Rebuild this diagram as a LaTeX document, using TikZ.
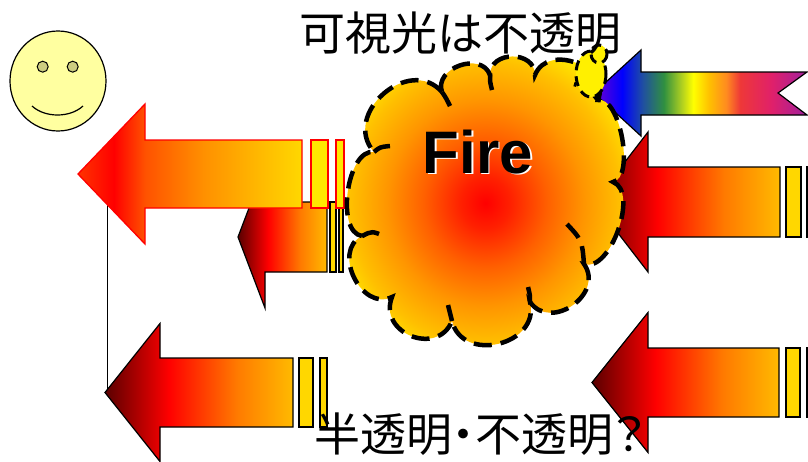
\documentclass[tikz,border=0pt]{standalone}
\usepackage{fontspec}
\usetikzlibrary{calc}
\newfontfamily\jpfont{Noto Sans CJK JP}[RawFeature=+palt]
\newfontfamily\firefont{Liberation Sans}
\definecolor{faceC}{HTML}{FFFFA0}
\definecolor{eyeC}{HTML}{CCCC80}
\definecolor{goldC}{HTML}{FFD700}
\definecolor{barC}{HTML}{FFE800}
\definecolor{hotA}{HTML}{FF3300}
\definecolor{hotB}{HTML}{FF5200}
\definecolor{hotC}{HTML}{FF9000}
\definecolor{hotD}{HTML}{FFB400}
\definecolor{hotE}{HTML}{FFD800}
\definecolor{embA}{HTML}{5A0000}
\definecolor{embC}{HTML}{FF7A00}
\definecolor{embD}{HTML}{FFBA00}
\definecolor{rbA}{HTML}{7000D0}
\definecolor{rbB}{HTML}{0000FF}
\definecolor{rbC}{HTML}{2050A0}
\definecolor{rbD}{HTML}{309040}
\definecolor{rbE}{HTML}{B0D020}
\definecolor{rbF}{HTML}{FFFF00}
\definecolor{rbG}{HTML}{FFC000}
\definecolor{rbH}{HTML}{FF8A20}
\definecolor{rbI}{HTML}{EE3838}
\definecolor{rbJ}{HTML}{E0206A}
\definecolor{rbK}{HTML}{A0209F}
\definecolor{flA}{HTML}{FF2000}
\definecolor{flB}{HTML}{FF6000}
\definecolor{flC}{HTML}{FF9500}
\definecolor{flD}{HTML}{FFC000}
\definecolor{flE}{HTML}{FFF000}
\pgfdeclarehorizontalshading{blaze}{100bp}{color(0bp)=(hotA); color(25bp)=(hotA);
  color(33bp)=(red); color(40bp)=(hotB); color(53bp)=(hotC); color(64bp)=(hotD);
  color(75bp)=(hotE); color(100bp)=(hotE)}
\pgfdeclarehorizontalshading{embers}{100bp}{color(0bp)=(embA); color(25bp)=(embA);
  color(42bp)=(red); color(60bp)=(embC); color(75bp)=(embD); color(100bp)=(embD)}
\pgfdeclarehorizontalshading{rainbow}{100bp}{color(0bp)=(rbA); color(25bp)=(rbA);
  color(31.6bp)=(rbB); color(36.5bp)=(rbC); color(41.4bp)=(rbD); color(45.6bp)=(rbE);
  color(48.3bp)=(rbF); color(52bp)=(rbG); color(56.1bp)=(rbH); color(59.3bp)=(rbI);
  color(66.7bp)=(rbJ); color(75bp)=(rbK); color(100bp)=(rbK)}
\pgfdeclareradialshading{flame}{\pgfpoint{0bp}{0bp}}{color(0bp)=(red); color(4bp)=(flA);
  color(10bp)=(flB); color(16bp)=(flC); color(22bp)=(flD); color(27bp)=(flE);
  color(50bp)=(flE)}
\tikzset{
  face/.style={draw=black, line width=1.2pt, fill=faceC},
  eye/.style={draw=black, line width=1pt, fill=eyeC},
  hot/.style={draw=red, line width=1.3pt, shading=blaze},
  hotbar/.style={draw=red, line width=1.3pt, fill=barC},
  ember/.style={draw=black, line width=1.2pt, shading=embers},
  emberbar/.style={draw=black, line width=1.2pt, fill=goldC},
  spectrum/.style={draw=black, line width=1.2pt, shading=rainbow},
  puffline/.style={draw=black, line width=4.5pt, dash pattern=on 18pt off 9pt},
  fire/.style={puffline, shading=flame},
  bubble/.style={draw=black, line width=3pt, dash pattern=on 10pt off 6pt, fill=flE},
  wire/.style={draw=black, line width=1pt},
  caption/.style={font=\jpfont\fontsize{46}{50}\selectfont, inner sep=0pt},
}
% style, tip x, mid y, head x, head half, shaft half, tail x
\newcommand{\arrowbody}[7]{%
  \draw[#1] (#2,#3) -- (#4,{#3-#5}) -- (#4,{#3-#6}) -- (#7,{#3-#6})
    -- (#7,{#3+#6}) -- (#4,{#3+#6}) -- (#4,{#3+#5}) -- cycle;}
% style, mid y, half, left, right
\newcommand{\arrowbar}[5]{\draw[#1] (#4,{#2-#3}) rectangle (#5,{#2+#3});}
\newcommand{\puff}[3]{.. controls ($(#1)!#3!-90:(#2)$) and ($(#2)!#3!90:(#1)$) .. (#2)}

\begin{document}
\begin{tikzpicture}[x=1pt, y=-1pt]
  \clip (0,0) rectangle (808,461);

  \coordinate (feed) at (107,200);
  \coordinate (lowtip) at (105,392.5);
  \draw[wire] (feed) -- (feed |- lowtip);

  \draw[face] (58,81) ellipse [x radius=48, y radius=50];
  \draw[eye] (42.7,66.7) circle [radius=5.5];
  \draw[eye] (72.7,66.7) circle [radius=5.5];
  \draw[line width=1.2pt] (32,106) .. controls (45,118) and (70,118) .. (83,106);

  \arrowbody{ember}{238}{237}{265}{71}{35}{327}
  \arrowbar{emberbar}{237}{35}{330}{336}
  \arrowbar{emberbar}{237}{35}{339}{343}

  \arrowbody{ember}{105}{392.5}{160}{69}{34.5}{293}
  \arrowbar{emberbar}{392.5}{34.5}{299}{313}
  \arrowbar{emberbar}{392.5}{34.5}{320}{327}

  \arrowbody{hot}{78}{174}{145}{70}{34}{302}
  \arrowbar{hotbar}{174}{34}{311}{328}
  \arrowbar{hotbar}{174}{34}{336}{344}

  \arrowbody{ember}{594}{202}{648}{70}{35}{780}
  \arrowbar{emberbar}{202}{35}{786}{801}
  \arrowbar{emberbar}{202}{35}{807}{822}

  \arrowbody{ember}{592}{382.5}{648}{70}{34.5}{779}
  \arrowbar{emberbar}{382.5}{34.5}{786}{800}
  \arrowbar{emberbar}{382.5}{34.5}{807}{822}

  \draw[spectrum] (594,93) -- (641,50) -- (641,72) -- (807,72) -- (778,93)
    -- (807,115) -- (641,115) -- (641,136) -- cycle;

  \coordinate (p1) at (442,92);
  \coordinate (p2) at (374,152);
  \coordinate (p3) at (362,236);
  \coordinate (p4) at (392,297);
  \coordinate (p5) at (452,321);
  \coordinate (p6) at (530,302);
  \coordinate (p7) at (584,264);
  \coordinate (p8) at (613,182);
  \coordinate (p9) at (598,100);
  \coordinate (p10) at (535,75);
  \coordinate (p11) at (490,75);
  \path[fire] (p1) \puff{p1}{p2}{0.55} \puff{p2}{p3}{0.32} \puff{p3}{p4}{0.5}
    \puff{p4}{p5}{0.6} \puff{p5}{p6}{0.55} \puff{p6}{p7}{0.55} \puff{p7}{p8}{0.32}
    \puff{p8}{p9}{0.27} \puff{p9}{p10}{0.52} \puff{p10}{p11}{0.55} \puff{p11}{p1}{0.5}
    -- cycle;
  % folds of the puffs running inside
  \draw[puffline] (p1) .. controls (446,98) .. (450,106);
  \draw[puffline] (p2) .. controls (380,147) .. (390,146);
  \draw[puffline] (p3) .. controls (372,231) .. (384,236);
  \draw[puffline] (p5) .. controls (450,313) .. (448,305);
  \draw[puffline] (p6) .. controls (530,295) .. (528,287);
  \draw[puffline] (p7) .. controls (582,240) .. (565,222);
  \draw[puffline] (p9) .. controls (588,88) .. (574,84);
  \draw[puffline] (p11) .. controls (490,82) .. (492,90);

  \draw[bubble] (591,74) ellipse [x radius=15, y radius=23];
  \draw[bubble] (599,54) ellipse [x radius=8, y radius=9];

  \node[font=\firefont\bfseries\fontsize{60}{66}\selectfont, text=white] (fireglow)
    at (479.5,153.5) {Fire};
  \node[font=\firefont\bfseries\fontsize{60}{66}\selectfont] (firelabel)
    at (478,152) {Fire};

  \node[caption] (title) at (460,33) {可視光は不透明};
  \node[caption] (query) at (480,434) {半透明・不透明？};
\end{tikzpicture}
\end{document}
